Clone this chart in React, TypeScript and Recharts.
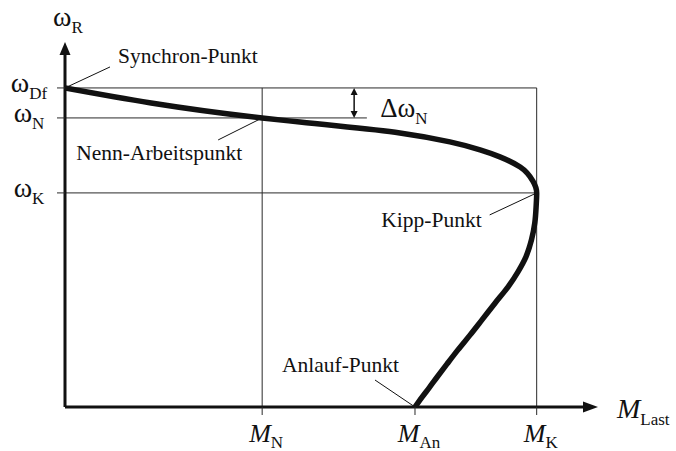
import { ComposedChart, Line, XAxis, YAxis, ReferenceLine, ReferenceDot } from "recharts";

// Drehmoment-Drehzahl-Kennlinie, normiert auf M_K = 100 und ω_Df = 100
const curveM = [
  0, 41.8, 49.8, 71.0, 81.6, 88.0, 92.2, 96.5, 99.2, 100,
  99.9, 99.6, 98.9, 97.7, 96.0, 93.9, 91.2, 88.4, 85.9, 83.3, 81.0, 78.9, 77.2, 75.7, 74.2,
];
const curveW = [
  100, 90.6, 89.3, 85.9, 83.1, 80.6, 78.4, 75.2, 70.8, 67.1,
  63.3, 57.7, 52.4, 47.0, 42.3, 37.6, 32.6, 27.3, 22.6, 17.9, 13.5, 9.4, 6.0, 3.1, 0,
];

// Kennpunkte
const mN = 41.8;
const mAn = 74.2;
const mK = 100;
const wDf = 100;
const wN = 90.6;
const wK = 67.1;

const xTicks = [mN, mAn, mK];
const xTickSubs = ["N", "An", "K"];
const yTicks = [wK, wN, wDf];
const yTickSubs = ["K", "N", "Df"];

const xMax = 113;
const yMax = 114.4;
const deltaAt = 61.3;
const wNLineEnd = 64;

const data = curveM.map((m, i) => ({ m, w: curveW[i] }));

const FONT = "'Liberation Serif', 'Times New Roman', serif";
const INK = "#111";
const GRID = "#2a2a2a";

function Sym({ x, y, main, sub, anchor = "middle", italic = false, size = 25, subSize = 17, subDy = 7 }: any) {
  return (
    <text x={x} y={y} textAnchor={anchor} fontFamily={FONT} fill={INK}>
      <tspan fontSize={size} fontStyle={italic ? "italic" : "normal"}>{main}</tspan>
      <tspan fontSize={subSize} dy={subDy}>{sub}</tspan>
    </text>
  );
}

const XTick = (props: any) => {
  const { x, y, payload } = props;
  const i = xTicks.indexOf(payload.value);
  return <Sym x={x + 4} y={y + 27} main="M" sub={xTickSubs[i]} italic size={26} subDy={6} />;
};

const YTick = (props: any) => {
  const { x, y, payload } = props;
  const i = yTicks.indexOf(payload.value);
  return <Sym x={x - 28} y={y + 4} main="ω" sub={yTickSubs[i]} size={28} />;
};

// Achse mit Pfeilspitze
const axisArrow = (dir: "x" | "y", label: any) => (p: any) => {
  const { x1, y1, x2, y2 } = p;
  const head =
    dir === "x"
      ? `${x2},${y2} ${x2 - 15},${y2 - 5.5} ${x2 - 15},${y2 + 5.5}`
      : `${x2},${y2} ${x2 - 5.5},${y2 + 13} ${x2 + 5.5},${y2 + 13}`;
  return (
    <g>
      <line x1={x1} y1={y1} x2={dir === "x" ? x2 - 10 : x2} y2={dir === "y" ? y2 + 10 : y2} stroke={INK} strokeWidth={3} />
      <polygon points={head} fill={INK} />
      {label(x2, y2)}
    </g>
  );
};

// Doppelpfeil für Δω_N
const doubleArrow = (p: any) => {
  const { x1, y1, x2, y2 } = p;
  return (
    <g>
      <line x1={x1} y1={y1 + 4} x2={x2} y2={y2 - 4} stroke={INK} strokeWidth={1.5} />
      <polygon points={`${x1},${y1} ${x1 - 3.5},${y1 + 7} ${x1 + 3.5},${y1 + 7}`} fill={INK} />
      <polygon points={`${x2},${y2} ${x2 - 3.5},${y2 - 7} ${x2 + 3.5},${y2 - 7}`} fill={INK} />
      <Sym x={x2 + 26} y={y2 - 1} main="Δω" sub="N" anchor="start" size={27} />
    </g>
  );
};

// Beschriftung eines Kennpunkts mit Hinweislinie
const pointTag = (text: string, lx: number, ly: number, tx: number, ty: number, anchor: string) => (p: any) => {
  const { cx, cy } = p;
  return (
    <g>
      <line x1={cx} y1={cy} x2={cx + lx} y2={cy + ly} stroke={INK} strokeWidth={1} />
      <text x={cx + tx} y={cy + ty} textAnchor={anchor} fontFamily={FONT} fontSize={21.5} fill={INK}>
        {text}
      </text>
    </g>
  );
};

export default function App() {
  return (
    <div style={{ position: "absolute", left: 0, top: 0, background: "#fff" }}>
      <ComposedChart
        width={676}
        height={451}
        data={data}
        layout="vertical"
        margin={{ top: 42, right: 78, bottom: 0, left: 0 }}
      >
        <XAxis
          type="number"
          domain={[0, xMax]}
          ticks={xTicks}
          interval={0}
          tick={<XTick />}
          tickSize={8}
          tickMargin={0}
          tickLine={{ stroke: GRID }}
          axisLine={false}
          height={44}
          allowDataOverflow
        />
        <YAxis
          type="number"
          dataKey="w"
          domain={[0, yMax]}
          reversed
          ticks={yTicks}
          interval={0}
          tick={<YTick />}
          tickSize={8}
          tickMargin={0}
          tickLine={{ stroke: GRID }}
          axisLine={false}
          width={65}
          allowDataOverflow
        />

        {/* Hilfslinien */}
        <ReferenceLine segment={[{ x: 0, y: wDf }, { x: mK, y: wDf }]} stroke={GRID} strokeWidth={1} />
        <ReferenceLine segment={[{ x: 0, y: wN }, { x: wNLineEnd, y: wN }]} stroke={GRID} strokeWidth={1} />
        <ReferenceLine segment={[{ x: 0, y: wK }, { x: mK, y: wK }]} stroke={GRID} strokeWidth={1} />
        <ReferenceLine segment={[{ x: mN, y: 0 }, { x: mN, y: wDf }]} stroke={GRID} strokeWidth={1} />
        <ReferenceLine segment={[{ x: mK, y: 0 }, { x: mK, y: wDf }]} stroke={GRID} strokeWidth={1} />
        <ReferenceLine
          segment={[{ x: deltaAt, y: wDf }, { x: deltaAt, y: wN }]}
          shape={doubleArrow}
        />

        {/* Achsen */}
        <ReferenceLine
          segment={[{ x: 0, y: 0 }, { x: xMax, y: 0 }]}
          ifOverflow="visible"
          shape={axisArrow("x", (x: number, y: number) => (
            <Sym x={x + 19} y={y + 11} main="M" sub="Last" anchor="start" italic size={28} subSize={17} />
          ))}
        />
        <ReferenceLine
          segment={[{ x: 0, y: 0 }, { x: 0, y: yMax }]}
          ifOverflow="visible"
          shape={axisArrow("y", (x: number, y: number) => (
            <Sym x={x + 3} y={y - 16} main="ω" sub="R" size={28} />
          ))}
        />

        <Line
          dataKey="m"
          type="monotone"
          stroke={INK}
          strokeWidth={5.5}
          dot={false}
          activeDot={false}
          isAnimationActive={false}
        />

        <ReferenceDot x={0} y={wDf} ifOverflow="visible" shape={pointTag("Synchron-Punkt", 45, -21, 53, -25, "start")} />
        <ReferenceDot x={mN} y={wN} ifOverflow="visible" shape={pointTag("Nenn-Arbeitspunkt", -44, 22, -20, 42, "end")} />
        <ReferenceDot x={mK} y={wK} ifOverflow="visible" shape={pointTag("Kipp-Punkt", -47, 22, -55, 34, "end")} />
        <ReferenceDot x={mAn} y={0} ifOverflow="visible" shape={pointTag("Anlauf-Punkt", -40, -27, -16, -35, "end")} />
      </ComposedChart>
    </div>
  );
}
